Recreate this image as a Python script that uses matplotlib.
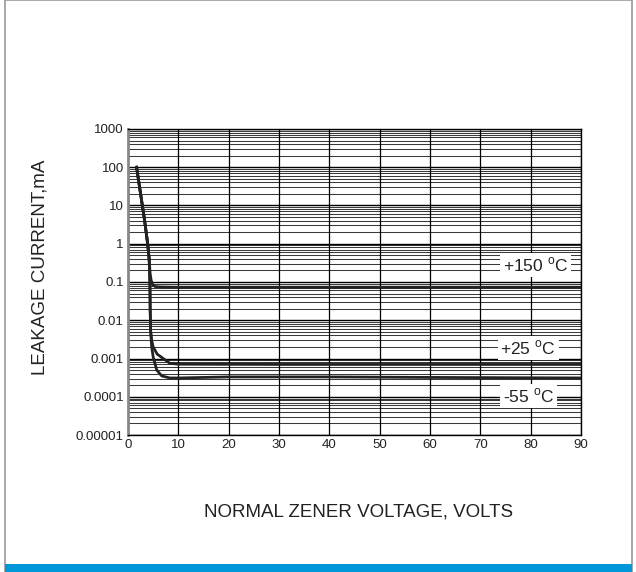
import matplotlib
matplotlib.use("Agg")
import matplotlib.pyplot as plt
from matplotlib.patches import Rectangle
import numpy as np

plt.rcParams["font.family"] = ["Liberation Sans", "DejaVu Sans"]
plt.rcParams["mathtext.fontset"] = "custom"
plt.rcParams["mathtext.rm"] = "Liberation Sans"
plt.rcParams["text.color"] = "#222222"
plt.rcParams["xtick.color"] = "#222222"
plt.rcParams["ytick.color"] = "#222222"

# curves (x in volts, y in mA)
x_150 = [1.7, 2.5, 3.3, 3.9, 4.2, 4.4, 4.6, 4.9, 5.4, 6.5, 10, 30, 60, 90]
y_150 = [100, 20, 4, 1, 0.4, 0.16, 0.11, 0.085, 0.076, 0.074, 0.073, 0.073, 0.073, 0.073]

x_25 = [1.7, 2.5, 3.3, 3.9, 4.2, 4.35, 4.4, 4.5, 4.7, 5.0, 5.8, 7.0, 8.3, 10, 30, 60, 90]
y_25 = [100, 20, 4, 1, 0.4, 0.1, 0.02, 0.005, 0.003, 0.002, 0.0013, 0.001, 0.00075, 0.00071, 0.0007, 0.0007, 0.0007]

x_m55 = [1.7, 2.5, 3.3, 3.9, 4.2, 4.35, 4.4, 4.5, 4.7, 5.0, 5.7, 6.7, 8.3, 10, 20, 40, 60, 90]
y_m55 = [100, 20, 4, 1, 0.4, 0.1, 0.02, 0.005, 0.002, 0.0011, 0.0005, 0.00035, 0.00031, 0.00031, 0.00033, 0.00033, 0.00032, 0.00031]

x_ticks = [0, 10, 20, 30, 40, 50, 60, 70, 80, 90]
y_ticks = [1e-5, 1e-4, 1e-3, 1e-2, 1e-1, 1, 10, 100, 1000]
y_ticklabels = ["0.00001", "0.0001", "0.001", "0.01", "0.1", "1", "10", "100", "1000"]

labels = ["+150 $^\\mathrm{o}$C", "+25 $^\\mathrm{o}$C", "-55 $^\\mathrm{o}$C"]
label_x = [81.0, 79.5, 79.5]
label_y = [0.28, 0.0019, 0.000105]

fig = plt.figure(figsize=(6.36, 5.72), dpi=100)
ax = fig.add_axes([0.2013, 0.2395, 0.7122, 0.535])

ax.set_yscale("log")
ax.set_xlim(0, 90)
ax.set_ylim(1e-5, 1000)

# grid lines
for d in range(-5, 3):
    for m in range(2, 10):
        ax.axhline(m * 10.0 ** d, color="#3a3a3a", lw=0.75, zorder=1)
for t in y_ticks:
    ax.axhline(t, color="black", lw=1.0, zorder=1)
for t in x_ticks:
    ax.axvline(t, color="black", lw=0.9, zorder=1)

ax.plot(x_150, y_150, color="#222222", lw=2.0, zorder=3)
ax.plot(x_25, y_25, color="#222222", lw=2.0, zorder=3)
ax.plot(x_m55, y_m55, color="#222222", lw=2.0, zorder=3)

for s, lx, ly in zip(labels, label_x, label_y):
    ax.text(lx, ly, s, fontsize=12.5, ha="center", va="center", zorder=4,
            bbox=dict(facecolor="white", edgecolor="none", pad=2))

ax.set_xticks(x_ticks)
ax.set_yticks(y_ticks)
ax.set_yticklabels(y_ticklabels)
ax.minorticks_off()
ax.tick_params(length=0, labelsize=9.5, pad=3)
for sp in ax.spines.values():
    sp.set_color("black")
    sp.set_linewidth(1.0)
ax.spines["left"].set_color("#888888")
ax.spines["left"].set_linewidth(2)

fig.text(0.063, 0.533, "LEAKAGE CURRENT,mA", rotation=90, fontsize=13.5,
         ha="center", va="center")
fig.text(0.563, 0.105, "NORMAL ZENER VOLTAGE, VOLTS", fontsize=13.5,
         ha="center", va="center")

# page frame and bottom bar
fig.patches.append(Rectangle((5 / 636, 0), 627 / 636, 1, transform=fig.transFigure,
                             fill=False, edgecolor="#999999", lw=1.2))
fig.patches.append(Rectangle((5 / 636, 0), 627 / 636, 8 / 572, transform=fig.transFigure,
                             facecolor="#0098d8", edgecolor="none"))

fig.savefig("out.png", dpi=100)
